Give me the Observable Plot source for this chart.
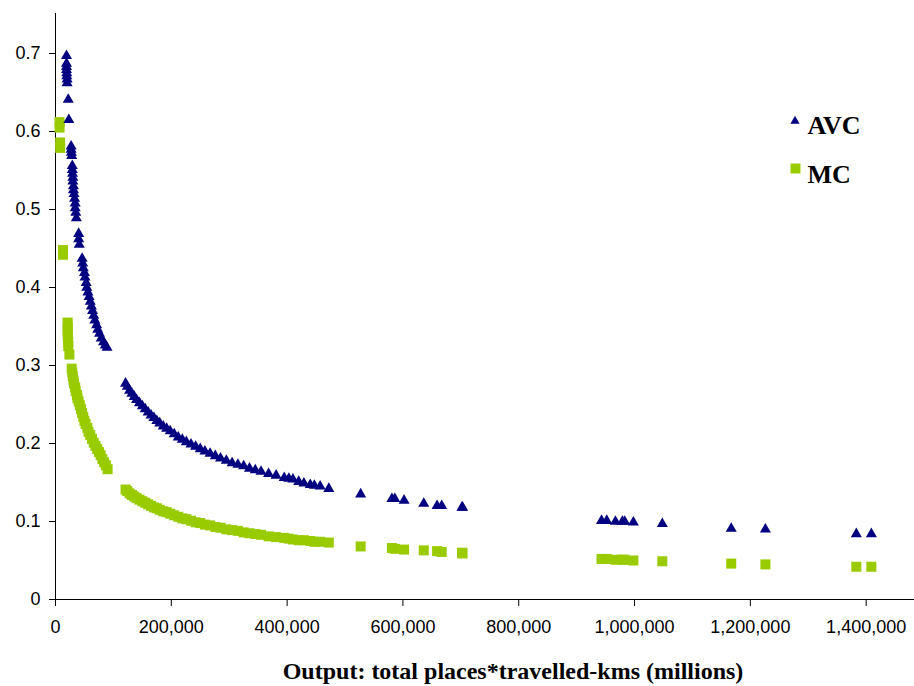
<!DOCTYPE html>
<html><head><meta charset="utf-8">
<script src="https://cdn.jsdelivr.net/npm/d3@7"></script>
<script src="https://cdn.jsdelivr.net/npm/@observablehq/plot@0.6"></script>
<style>body{margin:0;background:#fff;}</style>
</head><body><div id="chart"></div>
<script>
// Output (total places*travelled-kms, millions) and AVC values
const avcX = [19000,19000,19000,19000,19500,19500,20000,20000,22000,23000,27000,27000,27500,28000,29000,29000,29500,30000,30000,31000,31000,32000,33000,34000,34000,35000,36000,40000,40000,41000,46000,47000,48000,50000,51000,53000,54000,56000,58000,60000,62000,64000,66000,68000,71000,73000,76000,79000,83000,86000,89000,
  121000,124000,128000,132000,136000,140000,145000,150000,155000,160000,165000,170000,175000,180000,186000,192000,198000,205000,212000,219000,226000,234000,242000,250000,258000,267000,276000,285000,295000,305000,315000,325000,335000,345000,355000,368000,381000,395000,403000,410000,420000,429000,440000,447000,457000,472000,
  527000,581000,586000,602000,636000,659000,667000,702000,703000,943000,952000,967000,979000,983000,998000,1048000,1167000,1226000,1383000,1409000];
const avcY = [0.697,0.687,0.683,0.679,0.675,0.671,0.667,0.662,0.641,0.615,0.581,0.577,0.573,0.569,0.556,0.551,0.546,0.541,0.536,0.530,0.525,0.520,0.514,0.508,0.502,0.496,0.489,0.469,0.462,0.455,0.437,0.431,0.425,0.419,0.413,0.406,0.400,0.394,0.388,0.382,0.376,0.370,0.364,0.358,0.352,0.346,0.341,0.335,0.330,0.326,0.323,
  0.277,0.273,0.268,0.264,0.260,0.256,0.252,0.248,0.244,0.240,0.236,0.233,0.229,0.226,0.222,0.219,0.216,0.212,0.208,0.205,0.202,0.199,0.196,0.193,0.190,0.187,0.184,0.181,0.178,0.175,0.173,0.171,0.168,0.166,0.164,0.161,0.159,0.156,0.155,0.154,0.151,0.149,0.147,0.146,0.145,0.142,
  0.135,0.129,0.129,0.127,0.123,0.120,0.120,0.118,0.118,0.101,0.101,0.100,0.100,0.100,0.099,0.097,0.091,0.090,0.084,0.084];
// Output and MC values
const mcX = [7000,7000,8000,8000,13000,13000,21000,21000,21000,21000,21500,22000,22000,24000,28000,29000,30000,31000,32000,34000,35000,37000,38000,40000,42000,44000,46000,48000,50000,52000,55000,57000,60000,63000,66000,69000,72000,75000,78000,81000,84000,87000,90000,
  121000,124000,128000,132000,136000,140000,145000,150000,155000,160000,165000,170000,175000,180000,186000,192000,198000,205000,212000,219000,226000,234000,242000,250000,258000,267000,276000,285000,295000,305000,315000,325000,335000,345000,355000,368000,381000,395000,403000,410000,420000,429000,440000,447000,457000,472000,
  527000,581000,586000,602000,636000,659000,667000,702000,703000,943000,952000,967000,979000,983000,998000,1048000,1167000,1226000,1383000,1409000];
const mcY = [0.612,0.605,0.586,0.579,0.448,0.442,0.355,0.350,0.345,0.340,0.335,0.330,0.325,0.314,0.296,0.291,0.286,0.281,0.277,0.272,0.267,0.262,0.258,0.254,0.249,0.244,0.239,0.234,0.229,0.225,0.220,0.215,0.211,0.206,0.201,0.197,0.193,0.189,0.185,0.180,0.176,0.172,0.167,
  0.141,0.139,0.136,0.134,0.132,0.130,0.128,0.126,0.124,0.122,0.120,0.118,0.117,0.115,0.113,0.112,0.110,0.108,0.106,0.104,0.103,0.101,0.099,0.098,0.096,0.095,0.093,0.092,0.090,0.089,0.088,0.086,0.085,0.084,0.083,0.081,0.080,0.079,0.078,0.077,0.076,0.076,0.075,0.074,0.074,0.073,
  0.068,0.066,0.065,0.064,0.063,0.062,0.061,0.060,0.059,0.052,0.052,0.051,0.051,0.051,0.050,0.049,0.046,0.045,0.042,0.042];

const xTicks = [0,200000,400000,600000,800000,1000000,1200000,1400000];
const yTicks = [0,0.1,0.2,0.3,0.4,0.5,0.6,0.7];
const seriesNames = ["AVC","MC"];
const xTitle = "Output: total places*travelled-kms (millions)";

const AVC_COLOR = "#000080";
const MC_COLOR = "#99CC00";

const avc = avcX.map((x, i) => ({x, y: avcY[i]}));
const mc = mcX.map((x, i) => ({x, y: mcY[i]}));

const W = 914;
const serif = "'Liberation Serif', 'Times New Roman', serif";

const chart = Plot.plot({
  width: W, height: 686,
  marginLeft: 55, marginTop: 13, marginRight: 0, marginBottom: 87,
  x: {domain: [0, 1483500]},
  y: {domain: [0, 0.7513]},
  style: {fontFamily: "'Liberation Sans', Arial, sans-serif", fontSize: "18px", color: "#000", background: "#fff"},
  marks: [
    Plot.axisY(yTicks, {tickSize: 6, tickPadding: 9, tickFormat: d => String(d), label: null, fontSize: 18}),
    Plot.axisX(xTicks, {tickSize: 7, tickPadding: 14, tickFormat: d3.format(","), label: null, fontSize: 18}),
    Plot.ruleX([0], {stroke: "#000"}),
    Plot.ruleY([0], {stroke: "#000"}),
    Plot.dot(mc, {x: "x", y: "y", symbol: "square", r: 5.65, fill: MC_COLOR, stroke: "none"}),
    Plot.dot(avc, {x: "x", y: "y", symbol: "triangle", r: 4.1, fill: AVC_COLOR, stroke: "none"}),
    // legend
    Plot.dot([seriesNames[0]], {frameAnchor: "top-right", dx: 794.5 - W, dy: 120.5 - 13, symbol: "triangle", r: 3.4, fill: AVC_COLOR, stroke: "none"}),
    Plot.dot([seriesNames[1]], {frameAnchor: "top-right", dx: 795 - W, dy: 168 - 13, symbol: "square", r: 5.6, fill: MC_COLOR, stroke: "none"}),
    Plot.text([seriesNames[0]], {text: d => d, frameAnchor: "top-right", textAnchor: "start", lineAnchor: "middle", dx: 807 - W, dy: 124.7 - 13, fontSize: 26, fontWeight: "bold", fontFamily: serif, fill: "#000"}),
    Plot.text([seriesNames[1]], {text: d => d, frameAnchor: "top-right", textAnchor: "start", lineAnchor: "middle", dx: 807 - W, dy: 173.7 - 13, fontSize: 26, fontWeight: "bold", fontFamily: serif, fill: "#000"}),
    // x axis title
    Plot.text([xTitle], {text: d => d, frameAnchor: "bottom", lineAnchor: "middle", dx: 28, dy: 72, fontSize: 24, fontWeight: "bold", fontFamily: serif, fill: "#000"})
  ]
});
document.getElementById("chart").appendChild(chart);
</script>
</body></html>
